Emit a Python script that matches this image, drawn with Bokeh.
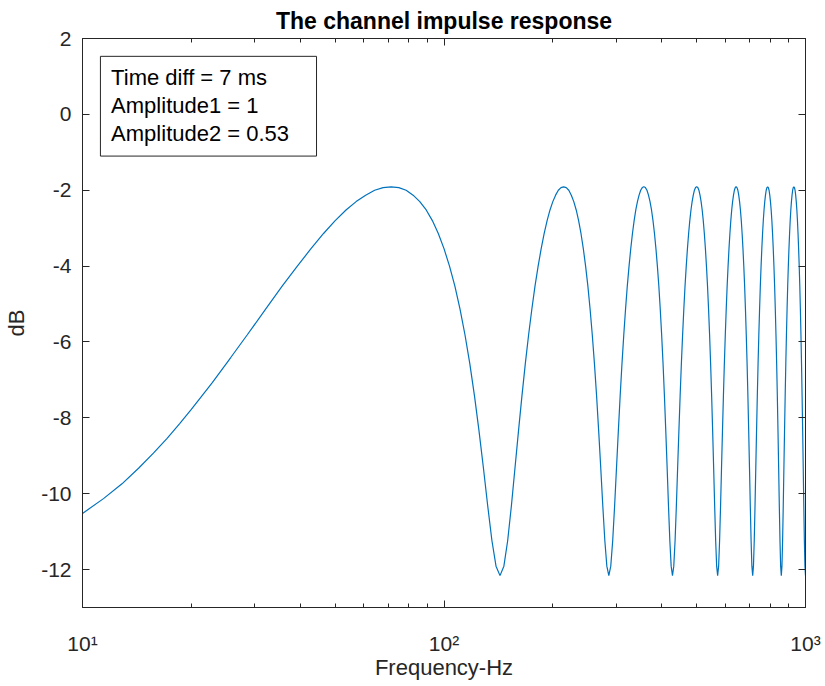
from bokeh.plotting import figure
from bokeh.models import LogAxis, LinearAxis, FixedTicker, Range1d, Label, BoxAnnotation
from bokeh.embed import file_html
from bokeh.resources import INLINE

# ---- data (frequency in Hz, level in dB) ----
freq_hz = [
    # first lobe
    10.00, 11.43, 12.86, 14.29, 15.71, 17.14, 18.57, 20.00, 22.86, 25.71, 28.57,
    32.14, 35.71, 39.29, 42.86, 46.43, 50.00, 53.57, 57.14, 60.71, 64.29, 67.86, 71.43,
    75.00, 78.57, 82.14, 85.71, 89.29, 92.86, 96.43, 100.00, 103.57, 107.14, 110.71,
    114.29, 117.86, 121.43, 125.00, 128.57, 132.14, 135.71, 139.29, 142.86,
    # second lobe
    146.43, 150.00, 153.57, 157.14, 160.71, 164.29, 167.86, 171.43, 175.00, 178.57,
    182.14, 185.71, 189.29, 192.86, 196.43, 200.00, 203.57, 207.14, 210.71, 214.29,
    217.86, 221.43, 225.00, 228.57, 232.14, 235.71, 239.29, 242.86, 246.43, 250.00,
    253.57, 257.14, 260.71, 264.29, 267.86, 271.43, 275.00, 278.57, 282.14, 285.71,
    # third lobe
    289.29, 292.86, 296.43, 300.00, 303.57, 307.14, 310.71, 314.29, 317.86, 321.43,
    325.00, 328.57, 332.14, 335.71, 339.29, 342.86, 346.43, 350.00, 353.57, 357.14,
    360.71, 364.29, 367.86, 371.43, 375.00, 378.57, 382.14, 385.71, 389.29, 392.86,
    396.43, 400.00, 403.57, 407.14, 410.71, 414.29, 417.86, 421.43, 425.00, 428.57,
    # fourth lobe
    432.14, 435.71, 439.29, 442.86, 446.43, 450.00, 453.57, 457.14, 460.71, 464.29,
    467.86, 471.43, 475.00, 478.57, 482.14, 485.71, 489.29, 492.86, 496.43, 500.00,
    503.57, 507.14, 510.71, 514.29, 517.86, 521.43, 525.00, 528.57, 532.14, 535.71,
    539.29, 542.86, 546.43, 550.00, 553.57, 557.14, 560.71, 564.29, 567.86, 571.43,
    # fifth lobe
    575.00, 578.57, 582.14, 585.71, 589.29, 592.86, 596.43, 600.00, 603.57, 607.14,
    610.71, 614.29, 617.86, 621.43, 625.00, 628.57, 632.14, 635.71, 639.29, 642.86,
    646.43, 650.00, 653.57, 657.14, 660.71, 664.29, 667.86, 671.43, 675.00, 678.57,
    682.14, 685.71, 689.29, 692.86, 696.43, 700.00, 703.57, 707.14, 710.71, 714.29,
    # sixth lobe
    717.86, 721.43, 725.00, 728.57, 732.14, 735.71, 739.29, 742.86, 746.43, 750.00,
    753.57, 757.14, 760.71, 764.29, 767.86, 771.43, 775.00, 778.57, 782.14, 785.71,
    789.29, 792.86, 796.43, 800.00, 803.57, 807.14, 810.71, 814.29, 817.86, 821.43,
    825.00, 828.57, 832.14, 835.71, 839.29, 842.86, 846.43, 850.00, 853.57, 857.14,
    # seventh lobe
    860.71, 864.29, 867.86, 871.43, 875.00, 878.57, 882.14, 885.71, 889.29, 892.86,
    896.43, 900.00, 903.57, 907.14, 910.71, 914.29, 917.86, 921.43, 925.00, 928.57,
    932.14, 935.71, 939.29, 942.86, 946.43, 950.00, 953.57, 957.14, 960.71, 964.29,
    967.86, 971.43, 975.00, 978.57, 982.14, 985.71, 989.29, 992.86, 996.43, 1000.00,
]
level_db = [
    # first lobe
    -10.52, -10.13, -9.74, -9.33, -8.93, -8.54, -8.15, -7.78, -7.07, -6.41, -5.81,
    -5.13, -4.52, -4.00, -3.54, -3.14, -2.80, -2.52, -2.30, -2.13, -2.00, -1.93, -1.91,
    -1.93, -2.00, -2.13, -2.30, -2.52, -2.80, -3.14, -3.54, -4.00, -4.52, -5.13,
    -5.81, -6.57, -7.42, -8.35, -9.33, -10.33, -11.24, -11.91, -12.16,
    # second lobe
    -11.91, -11.24, -10.33, -9.33, -8.35, -7.42, -6.57, -5.81, -5.13, -4.52,
    -4.00, -3.54, -3.14, -2.80, -2.52, -2.30, -2.13, -2.00, -1.93, -1.91,
    -1.93, -2.00, -2.13, -2.30, -2.52, -2.80, -3.14, -3.54, -4.00, -4.52,
    -5.13, -5.81, -6.57, -7.42, -8.35, -9.33, -10.33, -11.24, -11.91, -12.16,
    # third lobe
    -11.91, -11.24, -10.33, -9.33, -8.35, -7.42, -6.57, -5.81, -5.13, -4.52,
    -4.00, -3.54, -3.14, -2.80, -2.52, -2.30, -2.13, -2.00, -1.93, -1.91,
    -1.93, -2.00, -2.13, -2.30, -2.52, -2.80, -3.14, -3.54, -4.00, -4.52,
    -5.13, -5.81, -6.57, -7.42, -8.35, -9.33, -10.33, -11.24, -11.91, -12.16,
    # fourth lobe
    -11.91, -11.24, -10.33, -9.33, -8.35, -7.42, -6.57, -5.81, -5.13, -4.52,
    -4.00, -3.54, -3.14, -2.80, -2.52, -2.30, -2.13, -2.00, -1.93, -1.91,
    -1.93, -2.00, -2.13, -2.30, -2.52, -2.80, -3.14, -3.54, -4.00, -4.52,
    -5.13, -5.81, -6.57, -7.42, -8.35, -9.33, -10.33, -11.24, -11.91, -12.16,
    # fifth lobe
    -11.91, -11.24, -10.33, -9.33, -8.35, -7.42, -6.57, -5.81, -5.13, -4.52,
    -4.00, -3.54, -3.14, -2.80, -2.52, -2.30, -2.13, -2.00, -1.93, -1.91,
    -1.93, -2.00, -2.13, -2.30, -2.52, -2.80, -3.14, -3.54, -4.00, -4.52,
    -5.13, -5.81, -6.57, -7.42, -8.35, -9.33, -10.33, -11.24, -11.91, -12.16,
    # sixth lobe
    -11.91, -11.24, -10.33, -9.33, -8.35, -7.42, -6.57, -5.81, -5.13, -4.52,
    -4.00, -3.54, -3.14, -2.80, -2.52, -2.30, -2.13, -2.00, -1.93, -1.91,
    -1.93, -2.00, -2.13, -2.30, -2.52, -2.80, -3.14, -3.54, -4.00, -4.52,
    -5.13, -5.81, -6.57, -7.42, -8.35, -9.33, -10.33, -11.24, -11.91, -12.16,
    # seventh lobe
    -11.91, -11.24, -10.33, -9.33, -8.35, -7.42, -6.57, -5.81, -5.13, -4.52,
    -4.00, -3.54, -3.14, -2.80, -2.52, -2.30, -2.13, -2.00, -1.93, -1.91,
    -1.93, -2.00, -2.13, -2.30, -2.52, -2.80, -3.14, -3.54, -4.00, -4.52,
    -5.13, -5.81, -6.57, -7.42, -8.35, -9.33, -10.33, -11.24, -11.91, -12.16,
]

x_major_ticks = [10, 100, 1000]
x_minor_ticks = [20, 30, 40, 50, 60, 70, 80, 90, 200, 300, 400, 500, 600, 700, 800, 900]
x_tick_labels = {10: "10\u00b9", 100: "10\u00b2", 1000: "10\u00b3"}
y_ticks = [-12, -10, -8, -6, -4, -2, 0, 2]
y_tick_labels = {-12: "-12", -10: "-10", -8: "-8", -6: "-6", -4: "-4", -2: "-2", 0: "0", 2: "2"}

title_text = "The channel impulse response"
x_label = "Frequency-Hz"
y_label = "dB"
info_text = "Time diff = 7 ms\nAmplitude1 = 1\nAmplitude2 = 0.53"

FONT = "Liberation Sans"
AX = "#262626"
LINE = "#0072BD"

p = figure(
    width=825, height=686,
    x_axis_type="log",
    x_range=Range1d(10, 1000), y_range=Range1d(-13, 2),
    output_backend="svg", toolbar_location=None,
    min_border_left=82, min_border_right=20,
    min_border_top=38, min_border_bottom=79,
)
p.background_fill_color = "white"
p.border_fill_color = "white"
p.outline_line_color = AX
p.outline_line_width = 1
p.xgrid.visible = False
p.ygrid.visible = False

p.title.text = title_text
p.title.align = "center"
p.title.text_font = FONT
p.title.text_font_style = "bold"
p.title.text_font_size = "23px"
p.title.text_color = "black"
p.title.standoff = 10


def style_axis(ax, labels=True):
    ax.axis_line_color = AX
    ax.axis_line_width = 1
    ax.major_tick_line_color = AX
    ax.minor_tick_line_color = AX
    ax.major_tick_in = 7
    ax.major_tick_out = 0
    ax.minor_tick_in = 4
    ax.minor_tick_out = 0
    ax.major_label_text_font = FONT
    ax.major_label_text_color = AX
    ax.axis_label_text_font = FONT
    ax.axis_label_text_color = AX
    ax.axis_label_text_font_style = "normal"
    if labels:
        ax.major_label_text_font_size = "21px"
        ax.axis_label_text_font_size = "22px"
    else:
        ax.major_label_text_font_size = "1px"
        ax.major_label_text_alpha = 0
        ax.major_label_standoff = 0


xticker = FixedTicker(ticks=x_major_ticks, minor_ticks=x_minor_ticks)
yticker = FixedTicker(ticks=y_ticks, minor_ticks=[])

xa = p.xaxis[0]
xa.ticker = xticker
xa.major_label_overrides = x_tick_labels
xa.axis_label = x_label
style_axis(xa)
xa.major_label_standoff = 24
xa.axis_label_standoff = -3

ya = p.yaxis[0]
ya.ticker = yticker
ya.major_label_overrides = y_tick_labels
ya.axis_label = y_label
style_axis(ya)
ya.major_label_standoff = 11
ya.axis_label_standoff = 9

top = LogAxis(ticker=xticker)
style_axis(top, labels=False)
p.add_layout(top, "above")

right = LinearAxis(ticker=yticker)
style_axis(right, labels=False)
p.add_layout(right, "right")

p.line(freq_hz, level_db, line_color=LINE, line_width=1.2)

box = BoxAnnotation(
    left=11.21, right=44.4, top=1.53, bottom=-1.10,
    fill_color="white", fill_alpha=1.0,
    line_color=AX, line_width=1, line_alpha=1.0,
)
p.add_layout(box)

info = Label(
    x=12.0, y=1.30, x_units="data", y_units="data",
    text=info_text, anchor="top_left",
    text_font=FONT, text_font_size="22px", text_color="black",
    text_line_height=1.11,
)
p.add_layout(info)

open("out.html", "w").write(file_html(p, INLINE))
